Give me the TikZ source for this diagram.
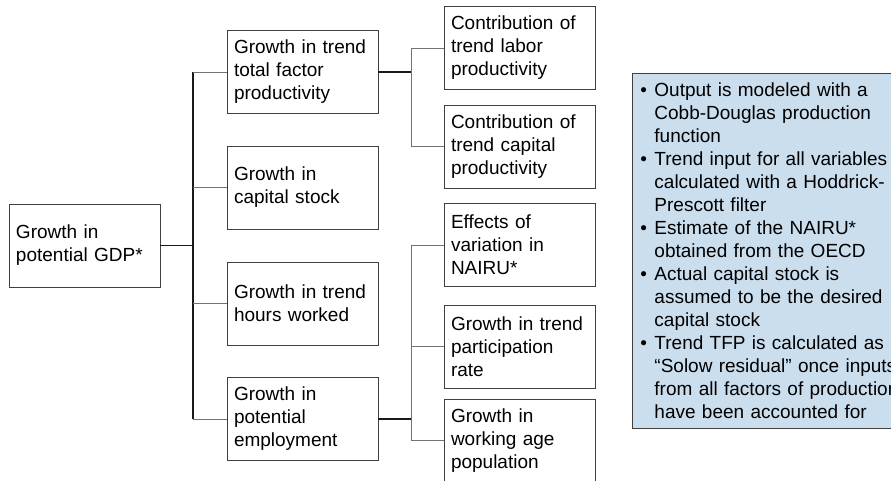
\documentclass[tikz,border=0pt]{standalone}
\usepackage{fontspec}
\setmainfont{Liberation Sans}
\usetikzlibrary{calc}

\definecolor{notefill}{RGB}{203,222,238}

\newcommand{\notebullet}{\makebox[14pt][l]{\textbullet}}
\newcommand{\noteindent}{\hspace*{14pt}}

\begin{document}
\begin{tikzpicture}[x=1pt,y=-1pt]

  \tikzstyle{block}=[draw=black!75,line width=0.9pt,fill=white,align=left,text width=137pt,inner xsep=7pt,inner ysep=0pt,minimum height=83pt,font=\fontsize{19}{23}\selectfont]
  \tikzstyle{trunk}=[line width=1.3pt,black!90]
  \tikzstyle{branch}=[line width=1pt,black!55]
  \tikzstyle{notes}=[draw=black!75,line width=0.9pt,fill=notefill,align=left,text width=300pt,inner xsep=8pt,inner ysep=9.5pt,font=\fontsize{19}{23}\selectfont]

  % ====================
  % Parameters
  % ====================
  \def\colA{84.5}   % x of the root box
  \def\colB{302.5}  % x of the second column
  \def\colC{519.5}  % x of the third column
  \def\busA{193}    % x of the first vertical line
  \def\busB{411}    % x of the second vertical line
  % ====================

  \useasboundingbox (0,0) rectangle (891,480);
  \clip (0,0) rectangle (891,480);

  % ====================
  % Boxes
  % ====================
  \node (gdp) [block] at (\colA,245.5) {Growth in\\potential GDP*};

  \node (tfp) [block] at (\colB,72) {Growth in trend\\total factor\\productivity};
  \node (cap) [block] at (\colB,187.5) {Growth in\\capital stock};
  \node (hrs) [block] at (\colB,303.5) {Growth in trend\\hours worked};
  \node (emp) [block] at (\colB,419) {Growth in\\potential\\employment};

  \node (lab) [block] at (\colC,48) {Contribution of\\trend labor\\productivity};
  \node (kap) [block] at (\colC,146.5) {Contribution of\\trend capital\\productivity};
  \node (nairu) [block] at (\colC,245) {Effects of\\variation in\\NAIRU*};
  \node (part) [block] at (\colC,346.5) {Growth in trend\\participation\\rate};
  \node (wap) [block] at (\colC,440.5) {Growth in\\working age\\population};

  % ====================
  % Connectors
  % ====================
  \coordinate (jA) at (\busA,245.5);
  \draw[trunk] (gdp.east) -- (jA);
  \draw[trunk] (jA |- tfp.west) -- (jA |- emp.west);
  \foreach \n in {tfp,cap,hrs,emp}
    \draw[branch] (jA |- \n.west) -- (\n.west);

  \coordinate (jB) at (\busB,72);
  \draw[trunk] (tfp.east) -- (jB);
  \draw[branch] (jB |- lab.west) -- (jB |- kap.west);
  \foreach \n in {lab,kap}
    \draw[branch] (jB |- \n.west) -- (\n.west);

  \coordinate (jC) at (\busB,419);
  \draw[trunk] (emp.east) -- (jC);
  \draw[branch] (jC |- nairu.west) -- (jC |- wap.west);
  \foreach \n in {nairu,part,wap}
    \draw[branch] (jC |- \n.west) -- (\n.west);

  % ====================
  % Notes
  % ====================
  \node (notes) [notes,anchor=north west] at (632,73) {%
    \notebullet Output is modeled with a\\
    \noteindent Cobb-Douglas production\\
    \noteindent function\\
    \notebullet Trend input for all variables\\
    \noteindent calculated with a Hoddrick-\\
    \noteindent Prescott filter\\
    \notebullet Estimate of the NAIRU*\\
    \noteindent obtained from the OECD\\
    \notebullet Actual capital stock is\\
    \noteindent assumed to be the desired\\
    \noteindent capital stock\\
    \notebullet Trend TFP is calculated as a\\
    \noteindent “Solow residual” once inputs\\
    \noteindent from all factors of production\\
    \noteindent have been accounted for};
\end{tikzpicture}
\end{document}
